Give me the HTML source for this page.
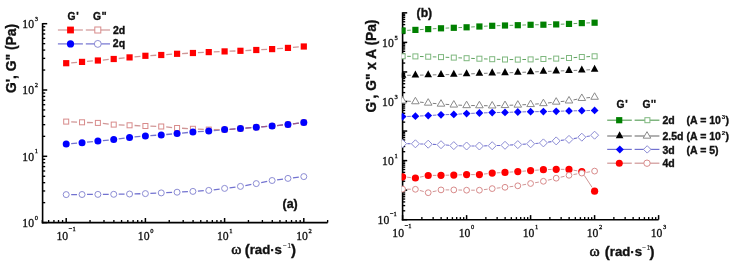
<!DOCTYPE html><html><head><meta charset="utf-8"><style>html,body{margin:0;padding:0;background:#fff;}svg{will-change:transform}svg{display:block}.s{font-family:"Liberation Serif",serif;fill:#111;stroke:#111;stroke-width:0.32px}.b{font-family:"Liberation Sans",sans-serif;font-weight:bold;fill:#111;stroke:#111;stroke-width:0.35px}</style></head><body>
<svg width="736" height="264" viewBox="0 0 736 264">
<rect width="736" height="264" fill="#fff"/>
<defs><clipPath id="cr"><rect x="401.70000000000005" y="0" width="266.0" height="220.5"/></clipPath></defs>
<line x1="71.20" y1="194.57" x2="77.04" y2="194.53" stroke="#7272d0" stroke-width="1.3" />
<line x1="87.04" y1="194.47" x2="92.88" y2="194.43" stroke="#7272d0" stroke-width="1.3" />
<line x1="102.88" y1="194.37" x2="108.72" y2="194.33" stroke="#7272d0" stroke-width="1.3" />
<line x1="118.72" y1="194.21" x2="124.56" y2="194.09" stroke="#7272d0" stroke-width="1.3" />
<line x1="134.56" y1="193.87" x2="140.40" y2="193.73" stroke="#7272d0" stroke-width="1.3" />
<line x1="150.40" y1="193.38" x2="156.24" y2="193.12" stroke="#7272d0" stroke-width="1.3" />
<line x1="166.24" y1="192.68" x2="172.08" y2="192.42" stroke="#7272d0" stroke-width="1.3" />
<line x1="182.07" y1="191.95" x2="187.93" y2="191.65" stroke="#7272d0" stroke-width="1.3" />
<line x1="197.91" y1="191.08" x2="203.77" y2="190.72" stroke="#7272d0" stroke-width="1.3" />
<line x1="213.72" y1="189.77" x2="219.64" y2="189.03" stroke="#7272d0" stroke-width="1.3" />
<line x1="229.56" y1="187.77" x2="235.48" y2="187.03" stroke="#7272d0" stroke-width="1.3" />
<line x1="245.36" y1="185.53" x2="251.36" y2="184.47" stroke="#7272d0" stroke-width="1.3" />
<line x1="261.19" y1="182.64" x2="267.21" y2="181.46" stroke="#7272d0" stroke-width="1.3" />
<line x1="277.08" y1="179.84" x2="283.00" y2="179.06" stroke="#7272d0" stroke-width="1.3" />
<line x1="292.93" y1="177.84" x2="298.83" y2="177.16" stroke="#7272d0" stroke-width="1.3" />
<circle cx="66.20" cy="194.60" r="3.00" fill="#fff" stroke="#8c8cd4" stroke-width="1"/>
<circle cx="82.04" cy="194.50" r="3.00" fill="#fff" stroke="#8c8cd4" stroke-width="1"/>
<circle cx="97.88" cy="194.40" r="3.00" fill="#fff" stroke="#8c8cd4" stroke-width="1"/>
<circle cx="113.72" cy="194.30" r="3.00" fill="#fff" stroke="#8c8cd4" stroke-width="1"/>
<circle cx="129.56" cy="194.00" r="3.00" fill="#fff" stroke="#8c8cd4" stroke-width="1"/>
<circle cx="145.40" cy="193.60" r="3.00" fill="#fff" stroke="#8c8cd4" stroke-width="1"/>
<circle cx="161.24" cy="192.90" r="3.00" fill="#fff" stroke="#8c8cd4" stroke-width="1"/>
<circle cx="177.08" cy="192.20" r="3.00" fill="#fff" stroke="#8c8cd4" stroke-width="1"/>
<circle cx="192.92" cy="191.40" r="3.00" fill="#fff" stroke="#8c8cd4" stroke-width="1"/>
<circle cx="208.76" cy="190.40" r="3.00" fill="#fff" stroke="#8c8cd4" stroke-width="1"/>
<circle cx="224.60" cy="188.40" r="3.00" fill="#fff" stroke="#8c8cd4" stroke-width="1"/>
<circle cx="240.44" cy="186.40" r="3.00" fill="#fff" stroke="#8c8cd4" stroke-width="1"/>
<circle cx="256.28" cy="183.60" r="3.00" fill="#fff" stroke="#8c8cd4" stroke-width="1"/>
<circle cx="272.12" cy="180.50" r="3.00" fill="#fff" stroke="#8c8cd4" stroke-width="1"/>
<circle cx="287.96" cy="178.40" r="3.00" fill="#fff" stroke="#8c8cd4" stroke-width="1"/>
<circle cx="303.80" cy="176.60" r="3.00" fill="#fff" stroke="#8c8cd4" stroke-width="1"/>
<line x1="71.18" y1="143.66" x2="77.06" y2="143.14" stroke="#7272d0" stroke-width="1.3" />
<line x1="87.01" y1="142.17" x2="92.91" y2="141.53" stroke="#7272d0" stroke-width="1.3" />
<line x1="102.86" y1="140.56" x2="108.74" y2="140.04" stroke="#7272d0" stroke-width="1.3" />
<line x1="118.67" y1="138.91" x2="124.61" y2="138.09" stroke="#7272d0" stroke-width="1.3" />
<line x1="134.54" y1="136.96" x2="140.42" y2="136.44" stroke="#7272d0" stroke-width="1.3" />
<line x1="150.39" y1="135.65" x2="156.25" y2="135.25" stroke="#7272d0" stroke-width="1.3" />
<line x1="166.22" y1="134.49" x2="172.10" y2="134.01" stroke="#7272d0" stroke-width="1.3" />
<line x1="182.05" y1="133.10" x2="187.95" y2="132.50" stroke="#7272d0" stroke-width="1.3" />
<line x1="197.91" y1="131.68" x2="203.77" y2="131.32" stroke="#7272d0" stroke-width="1.3" />
<line x1="213.74" y1="130.56" x2="219.62" y2="130.04" stroke="#7272d0" stroke-width="1.3" />
<line x1="229.59" y1="129.28" x2="235.45" y2="128.92" stroke="#7272d0" stroke-width="1.3" />
<line x1="245.42" y1="128.19" x2="251.30" y2="127.71" stroke="#7272d0" stroke-width="1.3" />
<line x1="261.26" y1="126.89" x2="267.14" y2="126.41" stroke="#7272d0" stroke-width="1.3" />
<line x1="277.10" y1="125.53" x2="282.98" y2="124.97" stroke="#7272d0" stroke-width="1.3" />
<line x1="292.92" y1="123.84" x2="298.84" y2="123.06" stroke="#7272d0" stroke-width="1.3" />
<line x1="71.20" y1="121.82" x2="77.04" y2="122.08" stroke="#d09696" stroke-width="1.3" />
<line x1="87.04" y1="122.49" x2="92.88" y2="122.71" stroke="#d09696" stroke-width="1.3" />
<line x1="102.85" y1="123.43" x2="108.75" y2="124.07" stroke="#d09696" stroke-width="1.3" />
<line x1="118.72" y1="124.82" x2="124.56" y2="125.08" stroke="#d09696" stroke-width="1.3" />
<line x1="134.56" y1="125.52" x2="140.40" y2="125.78" stroke="#d09696" stroke-width="1.3" />
<line x1="150.40" y1="126.16" x2="156.24" y2="126.34" stroke="#d09696" stroke-width="1.3" />
<line x1="166.22" y1="126.97" x2="172.10" y2="127.53" stroke="#d09696" stroke-width="1.3" />
<line x1="182.07" y1="128.25" x2="187.93" y2="128.55" stroke="#d09696" stroke-width="1.3" />
<line x1="197.91" y1="129.05" x2="203.77" y2="129.35" stroke="#d09696" stroke-width="1.3" />
<line x1="213.76" y1="129.60" x2="219.60" y2="129.60" stroke="#d09696" stroke-width="1.3" />
<line x1="229.59" y1="129.28" x2="235.45" y2="128.92" stroke="#a05a86" stroke-width="1.3" />
<line x1="245.42" y1="128.19" x2="251.30" y2="127.71" stroke="#a05a86" stroke-width="1.3" />
<line x1="261.26" y1="126.89" x2="267.14" y2="126.41" stroke="#a05a86" stroke-width="1.3" />
<line x1="277.10" y1="125.53" x2="282.98" y2="124.97" stroke="#a05a86" stroke-width="1.3" />
<line x1="292.92" y1="123.84" x2="298.84" y2="123.06" stroke="#a05a86" stroke-width="1.3" />
<rect x="63.70" y="119.10" width="5.00" height="5.00" fill="#fff" stroke="#d88a8a" stroke-width="1"/>
<rect x="79.54" y="119.80" width="5.00" height="5.00" fill="#fff" stroke="#d88a8a" stroke-width="1"/>
<rect x="95.38" y="120.40" width="5.00" height="5.00" fill="#fff" stroke="#d88a8a" stroke-width="1"/>
<rect x="111.22" y="122.10" width="5.00" height="5.00" fill="#fff" stroke="#d88a8a" stroke-width="1"/>
<rect x="127.06" y="122.80" width="5.00" height="5.00" fill="#fff" stroke="#d88a8a" stroke-width="1"/>
<rect x="142.90" y="123.50" width="5.00" height="5.00" fill="#fff" stroke="#d88a8a" stroke-width="1"/>
<rect x="158.74" y="124.00" width="5.00" height="5.00" fill="#fff" stroke="#d88a8a" stroke-width="1"/>
<rect x="174.58" y="125.50" width="5.00" height="5.00" fill="#fff" stroke="#d88a8a" stroke-width="1"/>
<rect x="190.42" y="126.30" width="5.00" height="5.00" fill="#fff" stroke="#d88a8a" stroke-width="1"/>
<rect x="206.26" y="127.10" width="5.00" height="5.00" fill="#fff" stroke="#d88a8a" stroke-width="1"/>
<rect x="222.10" y="127.10" width="5.00" height="5.00" fill="#fff" stroke="#d88a8a" stroke-width="1"/>
<rect x="237.94" y="126.10" width="5.00" height="5.00" fill="#fff" stroke="#d88a8a" stroke-width="1"/>
<rect x="253.78" y="124.80" width="5.00" height="5.00" fill="#fff" stroke="#d88a8a" stroke-width="1"/>
<rect x="269.62" y="123.50" width="5.00" height="5.00" fill="#fff" stroke="#d88a8a" stroke-width="1"/>
<rect x="285.46" y="122.00" width="5.00" height="5.00" fill="#fff" stroke="#d88a8a" stroke-width="1"/>
<rect x="301.30" y="119.90" width="5.00" height="5.00" fill="#fff" stroke="#d88a8a" stroke-width="1"/>
<circle cx="66.20" cy="144.10" r="3.50" fill="#0000ff"/>
<circle cx="82.04" cy="142.70" r="3.50" fill="#0000ff"/>
<circle cx="97.88" cy="141.00" r="3.50" fill="#0000ff"/>
<circle cx="113.72" cy="139.60" r="3.50" fill="#0000ff"/>
<circle cx="129.56" cy="137.40" r="3.50" fill="#0000ff"/>
<circle cx="145.40" cy="136.00" r="3.50" fill="#0000ff"/>
<circle cx="161.24" cy="134.90" r="3.50" fill="#0000ff"/>
<circle cx="177.08" cy="133.60" r="3.50" fill="#0000ff"/>
<circle cx="192.92" cy="132.00" r="3.50" fill="#0000ff"/>
<circle cx="208.76" cy="131.00" r="3.50" fill="#0000ff"/>
<circle cx="224.60" cy="129.60" r="3.50" fill="#0000ff"/>
<circle cx="240.44" cy="128.60" r="3.50" fill="#0000ff"/>
<circle cx="256.28" cy="127.30" r="3.50" fill="#0000ff"/>
<circle cx="272.12" cy="126.00" r="3.50" fill="#0000ff"/>
<circle cx="287.96" cy="124.50" r="3.50" fill="#0000ff"/>
<circle cx="303.80" cy="122.40" r="3.50" fill="#0000ff"/>
<line x1="71.18" y1="62.79" x2="77.06" y2="62.31" stroke="#d09696" stroke-width="1.3" />
<line x1="87.02" y1="61.46" x2="92.90" y2="60.94" stroke="#d09696" stroke-width="1.3" />
<line x1="102.86" y1="60.03" x2="108.74" y2="59.47" stroke="#d09696" stroke-width="1.3" />
<line x1="118.69" y1="58.50" x2="124.59" y2="57.90" stroke="#d09696" stroke-width="1.3" />
<line x1="134.53" y1="56.90" x2="140.43" y2="56.30" stroke="#d09696" stroke-width="1.3" />
<line x1="150.39" y1="55.55" x2="156.25" y2="55.25" stroke="#d09696" stroke-width="1.3" />
<line x1="166.23" y1="54.62" x2="172.09" y2="54.18" stroke="#d09696" stroke-width="1.3" />
<line x1="182.07" y1="53.55" x2="187.93" y2="53.25" stroke="#d09696" stroke-width="1.3" />
<line x1="197.91" y1="52.72" x2="203.77" y2="52.38" stroke="#d09696" stroke-width="1.3" />
<line x1="213.76" y1="51.88" x2="219.60" y2="51.62" stroke="#d09696" stroke-width="1.3" />
<line x1="229.60" y1="51.21" x2="235.44" y2="50.99" stroke="#d09696" stroke-width="1.3" />
<line x1="245.43" y1="50.55" x2="251.29" y2="50.25" stroke="#d09696" stroke-width="1.3" />
<line x1="261.27" y1="49.72" x2="267.13" y2="49.38" stroke="#d09696" stroke-width="1.3" />
<line x1="277.11" y1="48.72" x2="282.97" y2="48.28" stroke="#d09696" stroke-width="1.3" />
<line x1="292.94" y1="47.46" x2="298.82" y2="46.94" stroke="#d09696" stroke-width="1.3" />
<rect x="63.10" y="60.10" width="6.20" height="6.20" fill="#ff0000"/>
<rect x="78.94" y="58.80" width="6.20" height="6.20" fill="#ff0000"/>
<rect x="94.78" y="57.40" width="6.20" height="6.20" fill="#ff0000"/>
<rect x="110.62" y="55.90" width="6.20" height="6.20" fill="#ff0000"/>
<rect x="126.46" y="54.30" width="6.20" height="6.20" fill="#ff0000"/>
<rect x="142.30" y="52.70" width="6.20" height="6.20" fill="#ff0000"/>
<rect x="158.14" y="51.90" width="6.20" height="6.20" fill="#ff0000"/>
<rect x="173.98" y="50.70" width="6.20" height="6.20" fill="#ff0000"/>
<rect x="189.82" y="49.90" width="6.20" height="6.20" fill="#ff0000"/>
<rect x="205.66" y="49.00" width="6.20" height="6.20" fill="#ff0000"/>
<rect x="221.50" y="48.30" width="6.20" height="6.20" fill="#ff0000"/>
<rect x="237.34" y="47.70" width="6.20" height="6.20" fill="#ff0000"/>
<rect x="253.18" y="46.90" width="6.20" height="6.20" fill="#ff0000"/>
<rect x="269.02" y="46.00" width="6.20" height="6.20" fill="#ff0000"/>
<rect x="284.86" y="44.80" width="6.20" height="6.20" fill="#ff0000"/>
<rect x="300.70" y="43.40" width="6.20" height="6.20" fill="#ff0000"/>
<line x1="42.60" y1="23.10" x2="42.60" y2="223.40" stroke="#000" stroke-width="1.6" />
<line x1="41.80" y1="222.60" x2="327.64" y2="222.60" stroke="#000" stroke-width="1.6" />
<line x1="42.60" y1="222.60" x2="47.20" y2="222.60" stroke="#000" stroke-width="1.5" />
<line x1="42.60" y1="202.64" x2="45.20" y2="202.64" stroke="#000" stroke-width="1.35" />
<line x1="42.60" y1="190.97" x2="45.20" y2="190.97" stroke="#000" stroke-width="1.35" />
<line x1="42.60" y1="182.68" x2="45.20" y2="182.68" stroke="#000" stroke-width="1.35" />
<line x1="42.60" y1="176.26" x2="45.20" y2="176.26" stroke="#000" stroke-width="1.35" />
<line x1="42.60" y1="171.01" x2="45.20" y2="171.01" stroke="#000" stroke-width="1.35" />
<line x1="42.60" y1="166.57" x2="45.20" y2="166.57" stroke="#000" stroke-width="1.35" />
<line x1="42.60" y1="162.73" x2="45.20" y2="162.73" stroke="#000" stroke-width="1.35" />
<line x1="42.60" y1="159.33" x2="45.20" y2="159.33" stroke="#000" stroke-width="1.35" />
<line x1="42.60" y1="156.30" x2="47.20" y2="156.30" stroke="#000" stroke-width="1.5" />
<line x1="42.60" y1="136.34" x2="45.20" y2="136.34" stroke="#000" stroke-width="1.35" />
<line x1="42.60" y1="124.67" x2="45.20" y2="124.67" stroke="#000" stroke-width="1.35" />
<line x1="42.60" y1="116.38" x2="45.20" y2="116.38" stroke="#000" stroke-width="1.35" />
<line x1="42.60" y1="109.96" x2="45.20" y2="109.96" stroke="#000" stroke-width="1.35" />
<line x1="42.60" y1="104.71" x2="45.20" y2="104.71" stroke="#000" stroke-width="1.35" />
<line x1="42.60" y1="100.27" x2="45.20" y2="100.27" stroke="#000" stroke-width="1.35" />
<line x1="42.60" y1="96.43" x2="45.20" y2="96.43" stroke="#000" stroke-width="1.35" />
<line x1="42.60" y1="93.03" x2="45.20" y2="93.03" stroke="#000" stroke-width="1.35" />
<line x1="42.60" y1="90.00" x2="47.20" y2="90.00" stroke="#000" stroke-width="1.5" />
<line x1="42.60" y1="70.04" x2="45.20" y2="70.04" stroke="#000" stroke-width="1.35" />
<line x1="42.60" y1="58.37" x2="45.20" y2="58.37" stroke="#000" stroke-width="1.35" />
<line x1="42.60" y1="50.08" x2="45.20" y2="50.08" stroke="#000" stroke-width="1.35" />
<line x1="42.60" y1="43.66" x2="45.20" y2="43.66" stroke="#000" stroke-width="1.35" />
<line x1="42.60" y1="38.41" x2="45.20" y2="38.41" stroke="#000" stroke-width="1.35" />
<line x1="42.60" y1="33.97" x2="45.20" y2="33.97" stroke="#000" stroke-width="1.35" />
<line x1="42.60" y1="30.13" x2="45.20" y2="30.13" stroke="#000" stroke-width="1.35" />
<line x1="42.60" y1="26.73" x2="45.20" y2="26.73" stroke="#000" stroke-width="1.35" />
<line x1="42.60" y1="23.70" x2="47.20" y2="23.70" stroke="#000" stroke-width="1.5" />
<line x1="42.36" y1="222.60" x2="42.36" y2="220.00" stroke="#000" stroke-width="1.35" />
<line x1="48.63" y1="222.60" x2="48.63" y2="220.00" stroke="#000" stroke-width="1.35" />
<line x1="53.93" y1="222.60" x2="53.93" y2="220.00" stroke="#000" stroke-width="1.35" />
<line x1="58.52" y1="222.60" x2="58.52" y2="220.00" stroke="#000" stroke-width="1.35" />
<line x1="62.58" y1="222.60" x2="62.58" y2="220.00" stroke="#000" stroke-width="1.35" />
<line x1="66.20" y1="222.60" x2="66.20" y2="218.00" stroke="#000" stroke-width="1.5" />
<line x1="90.04" y1="222.60" x2="90.04" y2="220.00" stroke="#000" stroke-width="1.35" />
<line x1="103.99" y1="222.60" x2="103.99" y2="220.00" stroke="#000" stroke-width="1.35" />
<line x1="113.88" y1="222.60" x2="113.88" y2="220.00" stroke="#000" stroke-width="1.35" />
<line x1="121.56" y1="222.60" x2="121.56" y2="220.00" stroke="#000" stroke-width="1.35" />
<line x1="127.83" y1="222.60" x2="127.83" y2="220.00" stroke="#000" stroke-width="1.35" />
<line x1="133.13" y1="222.60" x2="133.13" y2="220.00" stroke="#000" stroke-width="1.35" />
<line x1="137.72" y1="222.60" x2="137.72" y2="220.00" stroke="#000" stroke-width="1.35" />
<line x1="141.78" y1="222.60" x2="141.78" y2="220.00" stroke="#000" stroke-width="1.35" />
<line x1="145.40" y1="222.60" x2="145.40" y2="218.00" stroke="#000" stroke-width="1.5" />
<line x1="169.24" y1="222.60" x2="169.24" y2="220.00" stroke="#000" stroke-width="1.35" />
<line x1="183.19" y1="222.60" x2="183.19" y2="220.00" stroke="#000" stroke-width="1.35" />
<line x1="193.08" y1="222.60" x2="193.08" y2="220.00" stroke="#000" stroke-width="1.35" />
<line x1="200.76" y1="222.60" x2="200.76" y2="220.00" stroke="#000" stroke-width="1.35" />
<line x1="207.03" y1="222.60" x2="207.03" y2="220.00" stroke="#000" stroke-width="1.35" />
<line x1="212.33" y1="222.60" x2="212.33" y2="220.00" stroke="#000" stroke-width="1.35" />
<line x1="216.92" y1="222.60" x2="216.92" y2="220.00" stroke="#000" stroke-width="1.35" />
<line x1="220.98" y1="222.60" x2="220.98" y2="220.00" stroke="#000" stroke-width="1.35" />
<line x1="224.60" y1="222.60" x2="224.60" y2="218.00" stroke="#000" stroke-width="1.5" />
<line x1="248.44" y1="222.60" x2="248.44" y2="220.00" stroke="#000" stroke-width="1.35" />
<line x1="262.39" y1="222.60" x2="262.39" y2="220.00" stroke="#000" stroke-width="1.35" />
<line x1="272.28" y1="222.60" x2="272.28" y2="220.00" stroke="#000" stroke-width="1.35" />
<line x1="279.96" y1="222.60" x2="279.96" y2="220.00" stroke="#000" stroke-width="1.35" />
<line x1="286.23" y1="222.60" x2="286.23" y2="220.00" stroke="#000" stroke-width="1.35" />
<line x1="291.53" y1="222.60" x2="291.53" y2="220.00" stroke="#000" stroke-width="1.35" />
<line x1="296.12" y1="222.60" x2="296.12" y2="220.00" stroke="#000" stroke-width="1.35" />
<line x1="300.18" y1="222.60" x2="300.18" y2="220.00" stroke="#000" stroke-width="1.35" />
<line x1="303.80" y1="222.60" x2="303.80" y2="218.00" stroke="#000" stroke-width="1.5" />
<line x1="327.64" y1="222.60" x2="327.64" y2="220.00" stroke="#000" stroke-width="1.35" />
<line x1="402.60" y1="12.25" x2="402.60" y2="220.50" stroke="#000" stroke-width="1.6" />
<line x1="401.80" y1="219.70" x2="658.60" y2="219.70" stroke="#000" stroke-width="1.6" />
<line x1="402.60" y1="219.70" x2="407.20" y2="219.70" stroke="#000" stroke-width="1.5" />
<line x1="402.60" y1="210.80" x2="405.20" y2="210.80" stroke="#000" stroke-width="1.35" />
<line x1="402.60" y1="205.60" x2="405.20" y2="205.60" stroke="#000" stroke-width="1.35" />
<line x1="402.60" y1="201.91" x2="405.20" y2="201.91" stroke="#000" stroke-width="1.35" />
<line x1="402.60" y1="199.05" x2="405.20" y2="199.05" stroke="#000" stroke-width="1.35" />
<line x1="402.60" y1="196.71" x2="405.20" y2="196.71" stroke="#000" stroke-width="1.35" />
<line x1="402.60" y1="194.73" x2="405.20" y2="194.73" stroke="#000" stroke-width="1.35" />
<line x1="402.60" y1="193.01" x2="405.20" y2="193.01" stroke="#000" stroke-width="1.35" />
<line x1="402.60" y1="191.50" x2="405.20" y2="191.50" stroke="#000" stroke-width="1.35" />
<line x1="402.60" y1="190.15" x2="407.20" y2="190.15" stroke="#000" stroke-width="1.5" />
<line x1="402.60" y1="181.25" x2="405.20" y2="181.25" stroke="#000" stroke-width="1.35" />
<line x1="402.60" y1="176.05" x2="405.20" y2="176.05" stroke="#000" stroke-width="1.35" />
<line x1="402.60" y1="172.36" x2="405.20" y2="172.36" stroke="#000" stroke-width="1.35" />
<line x1="402.60" y1="169.50" x2="405.20" y2="169.50" stroke="#000" stroke-width="1.35" />
<line x1="402.60" y1="167.16" x2="405.20" y2="167.16" stroke="#000" stroke-width="1.35" />
<line x1="402.60" y1="165.18" x2="405.20" y2="165.18" stroke="#000" stroke-width="1.35" />
<line x1="402.60" y1="163.46" x2="405.20" y2="163.46" stroke="#000" stroke-width="1.35" />
<line x1="402.60" y1="161.95" x2="405.20" y2="161.95" stroke="#000" stroke-width="1.35" />
<line x1="402.60" y1="160.60" x2="407.20" y2="160.60" stroke="#000" stroke-width="1.5" />
<line x1="402.60" y1="151.70" x2="405.20" y2="151.70" stroke="#000" stroke-width="1.35" />
<line x1="402.60" y1="146.50" x2="405.20" y2="146.50" stroke="#000" stroke-width="1.35" />
<line x1="402.60" y1="142.81" x2="405.20" y2="142.81" stroke="#000" stroke-width="1.35" />
<line x1="402.60" y1="139.95" x2="405.20" y2="139.95" stroke="#000" stroke-width="1.35" />
<line x1="402.60" y1="137.61" x2="405.20" y2="137.61" stroke="#000" stroke-width="1.35" />
<line x1="402.60" y1="135.63" x2="405.20" y2="135.63" stroke="#000" stroke-width="1.35" />
<line x1="402.60" y1="133.91" x2="405.20" y2="133.91" stroke="#000" stroke-width="1.35" />
<line x1="402.60" y1="132.40" x2="405.20" y2="132.40" stroke="#000" stroke-width="1.35" />
<line x1="402.60" y1="131.05" x2="407.20" y2="131.05" stroke="#000" stroke-width="1.5" />
<line x1="402.60" y1="122.15" x2="405.20" y2="122.15" stroke="#000" stroke-width="1.35" />
<line x1="402.60" y1="116.95" x2="405.20" y2="116.95" stroke="#000" stroke-width="1.35" />
<line x1="402.60" y1="113.26" x2="405.20" y2="113.26" stroke="#000" stroke-width="1.35" />
<line x1="402.60" y1="110.40" x2="405.20" y2="110.40" stroke="#000" stroke-width="1.35" />
<line x1="402.60" y1="108.06" x2="405.20" y2="108.06" stroke="#000" stroke-width="1.35" />
<line x1="402.60" y1="106.08" x2="405.20" y2="106.08" stroke="#000" stroke-width="1.35" />
<line x1="402.60" y1="104.36" x2="405.20" y2="104.36" stroke="#000" stroke-width="1.35" />
<line x1="402.60" y1="102.85" x2="405.20" y2="102.85" stroke="#000" stroke-width="1.35" />
<line x1="402.60" y1="101.50" x2="407.20" y2="101.50" stroke="#000" stroke-width="1.5" />
<line x1="402.60" y1="92.60" x2="405.20" y2="92.60" stroke="#000" stroke-width="1.35" />
<line x1="402.60" y1="87.40" x2="405.20" y2="87.40" stroke="#000" stroke-width="1.35" />
<line x1="402.60" y1="83.71" x2="405.20" y2="83.71" stroke="#000" stroke-width="1.35" />
<line x1="402.60" y1="80.85" x2="405.20" y2="80.85" stroke="#000" stroke-width="1.35" />
<line x1="402.60" y1="78.51" x2="405.20" y2="78.51" stroke="#000" stroke-width="1.35" />
<line x1="402.60" y1="76.53" x2="405.20" y2="76.53" stroke="#000" stroke-width="1.35" />
<line x1="402.60" y1="74.81" x2="405.20" y2="74.81" stroke="#000" stroke-width="1.35" />
<line x1="402.60" y1="73.30" x2="405.20" y2="73.30" stroke="#000" stroke-width="1.35" />
<line x1="402.60" y1="71.95" x2="407.20" y2="71.95" stroke="#000" stroke-width="1.5" />
<line x1="402.60" y1="63.05" x2="405.20" y2="63.05" stroke="#000" stroke-width="1.35" />
<line x1="402.60" y1="57.85" x2="405.20" y2="57.85" stroke="#000" stroke-width="1.35" />
<line x1="402.60" y1="54.16" x2="405.20" y2="54.16" stroke="#000" stroke-width="1.35" />
<line x1="402.60" y1="51.30" x2="405.20" y2="51.30" stroke="#000" stroke-width="1.35" />
<line x1="402.60" y1="48.96" x2="405.20" y2="48.96" stroke="#000" stroke-width="1.35" />
<line x1="402.60" y1="46.98" x2="405.20" y2="46.98" stroke="#000" stroke-width="1.35" />
<line x1="402.60" y1="45.26" x2="405.20" y2="45.26" stroke="#000" stroke-width="1.35" />
<line x1="402.60" y1="43.75" x2="405.20" y2="43.75" stroke="#000" stroke-width="1.35" />
<line x1="402.60" y1="42.40" x2="407.20" y2="42.40" stroke="#000" stroke-width="1.5" />
<line x1="402.60" y1="33.50" x2="405.20" y2="33.50" stroke="#000" stroke-width="1.35" />
<line x1="402.60" y1="28.30" x2="405.20" y2="28.30" stroke="#000" stroke-width="1.35" />
<line x1="402.60" y1="24.61" x2="405.20" y2="24.61" stroke="#000" stroke-width="1.35" />
<line x1="402.60" y1="21.75" x2="405.20" y2="21.75" stroke="#000" stroke-width="1.35" />
<line x1="402.60" y1="19.41" x2="405.20" y2="19.41" stroke="#000" stroke-width="1.35" />
<line x1="402.60" y1="17.43" x2="405.20" y2="17.43" stroke="#000" stroke-width="1.35" />
<line x1="402.60" y1="15.71" x2="405.20" y2="15.71" stroke="#000" stroke-width="1.35" />
<line x1="402.60" y1="14.20" x2="405.20" y2="14.20" stroke="#000" stroke-width="1.35" />
<line x1="402.60" y1="12.85" x2="407.20" y2="12.85" stroke="#000" stroke-width="1.5" />
<line x1="402.60" y1="219.70" x2="402.60" y2="215.10" stroke="#000" stroke-width="1.5" />
<line x1="421.87" y1="219.70" x2="421.87" y2="217.10" stroke="#000" stroke-width="1.35" />
<line x1="433.14" y1="219.70" x2="433.14" y2="217.10" stroke="#000" stroke-width="1.35" />
<line x1="441.13" y1="219.70" x2="441.13" y2="217.10" stroke="#000" stroke-width="1.35" />
<line x1="447.33" y1="219.70" x2="447.33" y2="217.10" stroke="#000" stroke-width="1.35" />
<line x1="452.40" y1="219.70" x2="452.40" y2="217.10" stroke="#000" stroke-width="1.35" />
<line x1="456.69" y1="219.70" x2="456.69" y2="217.10" stroke="#000" stroke-width="1.35" />
<line x1="460.40" y1="219.70" x2="460.40" y2="217.10" stroke="#000" stroke-width="1.35" />
<line x1="463.67" y1="219.70" x2="463.67" y2="217.10" stroke="#000" stroke-width="1.35" />
<line x1="466.60" y1="219.70" x2="466.60" y2="215.10" stroke="#000" stroke-width="1.5" />
<line x1="485.87" y1="219.70" x2="485.87" y2="217.10" stroke="#000" stroke-width="1.35" />
<line x1="497.14" y1="219.70" x2="497.14" y2="217.10" stroke="#000" stroke-width="1.35" />
<line x1="505.13" y1="219.70" x2="505.13" y2="217.10" stroke="#000" stroke-width="1.35" />
<line x1="511.33" y1="219.70" x2="511.33" y2="217.10" stroke="#000" stroke-width="1.35" />
<line x1="516.40" y1="219.70" x2="516.40" y2="217.10" stroke="#000" stroke-width="1.35" />
<line x1="520.69" y1="219.70" x2="520.69" y2="217.10" stroke="#000" stroke-width="1.35" />
<line x1="524.40" y1="219.70" x2="524.40" y2="217.10" stroke="#000" stroke-width="1.35" />
<line x1="527.67" y1="219.70" x2="527.67" y2="217.10" stroke="#000" stroke-width="1.35" />
<line x1="530.60" y1="219.70" x2="530.60" y2="215.10" stroke="#000" stroke-width="1.5" />
<line x1="549.87" y1="219.70" x2="549.87" y2="217.10" stroke="#000" stroke-width="1.35" />
<line x1="561.14" y1="219.70" x2="561.14" y2="217.10" stroke="#000" stroke-width="1.35" />
<line x1="569.13" y1="219.70" x2="569.13" y2="217.10" stroke="#000" stroke-width="1.35" />
<line x1="575.33" y1="219.70" x2="575.33" y2="217.10" stroke="#000" stroke-width="1.35" />
<line x1="580.40" y1="219.70" x2="580.40" y2="217.10" stroke="#000" stroke-width="1.35" />
<line x1="584.69" y1="219.70" x2="584.69" y2="217.10" stroke="#000" stroke-width="1.35" />
<line x1="588.40" y1="219.70" x2="588.40" y2="217.10" stroke="#000" stroke-width="1.35" />
<line x1="591.67" y1="219.70" x2="591.67" y2="217.10" stroke="#000" stroke-width="1.35" />
<line x1="594.60" y1="219.70" x2="594.60" y2="215.10" stroke="#000" stroke-width="1.5" />
<line x1="613.87" y1="219.70" x2="613.87" y2="217.10" stroke="#000" stroke-width="1.35" />
<line x1="625.14" y1="219.70" x2="625.14" y2="217.10" stroke="#000" stroke-width="1.35" />
<line x1="633.13" y1="219.70" x2="633.13" y2="217.10" stroke="#000" stroke-width="1.35" />
<line x1="639.33" y1="219.70" x2="639.33" y2="217.10" stroke="#000" stroke-width="1.35" />
<line x1="644.40" y1="219.70" x2="644.40" y2="217.10" stroke="#000" stroke-width="1.35" />
<line x1="648.69" y1="219.70" x2="648.69" y2="217.10" stroke="#000" stroke-width="1.35" />
<line x1="652.40" y1="219.70" x2="652.40" y2="217.10" stroke="#000" stroke-width="1.35" />
<line x1="655.67" y1="219.70" x2="655.67" y2="217.10" stroke="#000" stroke-width="1.35" />
<line x1="658.60" y1="219.70" x2="658.60" y2="215.10" stroke="#000" stroke-width="1.5" />
<g clip-path="url(#cr)"><line x1="407.20" y1="56.34" x2="410.80" y2="56.36" stroke="#5fa35f" stroke-width="1.0" /><line x1="420.00" y1="56.51" x2="423.60" y2="56.59" stroke="#5fa35f" stroke-width="1.0" /><line x1="432.80" y1="56.84" x2="436.40" y2="56.96" stroke="#5fa35f" stroke-width="1.0" /><line x1="445.60" y1="57.28" x2="449.20" y2="57.42" stroke="#5fa35f" stroke-width="1.0" /><line x1="458.39" y1="57.82" x2="462.01" y2="57.98" stroke="#5fa35f" stroke-width="1.0" /><line x1="471.20" y1="58.38" x2="474.80" y2="58.52" stroke="#5fa35f" stroke-width="1.0" /><line x1="484.00" y1="58.88" x2="487.60" y2="59.02" stroke="#5fa35f" stroke-width="1.0" /><line x1="496.80" y1="59.31" x2="500.40" y2="59.39" stroke="#5fa35f" stroke-width="1.0" /><line x1="509.60" y1="59.54" x2="513.20" y2="59.56" stroke="#5fa35f" stroke-width="1.0" /><line x1="522.40" y1="59.53" x2="526.00" y2="59.47" stroke="#5fa35f" stroke-width="1.0" /><line x1="535.20" y1="59.26" x2="538.80" y2="59.14" stroke="#5fa35f" stroke-width="1.0" /><line x1="548.00" y1="58.86" x2="551.60" y2="58.74" stroke="#5fa35f" stroke-width="1.0" /><line x1="560.79" y1="58.38" x2="564.41" y2="58.22" stroke="#5fa35f" stroke-width="1.0" /><line x1="573.59" y1="57.64" x2="577.21" y2="57.36" stroke="#5fa35f" stroke-width="1.0" /><line x1="586.39" y1="56.75" x2="590.01" y2="56.55" stroke="#5fa35f" stroke-width="1.0" /><rect x="400.10" y="53.80" width="5.00" height="5.00" fill="#fff" stroke="#7fb87f" stroke-width="1"/><rect x="412.90" y="53.90" width="5.00" height="5.00" fill="#fff" stroke="#7fb87f" stroke-width="1"/><rect x="425.70" y="54.20" width="5.00" height="5.00" fill="#fff" stroke="#7fb87f" stroke-width="1"/><rect x="438.50" y="54.60" width="5.00" height="5.00" fill="#fff" stroke="#7fb87f" stroke-width="1"/><rect x="451.30" y="55.10" width="5.00" height="5.00" fill="#fff" stroke="#7fb87f" stroke-width="1"/><rect x="464.10" y="55.70" width="5.00" height="5.00" fill="#fff" stroke="#7fb87f" stroke-width="1"/><rect x="476.90" y="56.20" width="5.00" height="5.00" fill="#fff" stroke="#7fb87f" stroke-width="1"/><rect x="489.70" y="56.70" width="5.00" height="5.00" fill="#fff" stroke="#7fb87f" stroke-width="1"/><rect x="502.50" y="57.00" width="5.00" height="5.00" fill="#fff" stroke="#7fb87f" stroke-width="1"/><rect x="515.30" y="57.10" width="5.00" height="5.00" fill="#fff" stroke="#7fb87f" stroke-width="1"/><rect x="528.10" y="56.90" width="5.00" height="5.00" fill="#fff" stroke="#7fb87f" stroke-width="1"/><rect x="540.90" y="56.50" width="5.00" height="5.00" fill="#fff" stroke="#7fb87f" stroke-width="1"/><rect x="553.70" y="56.10" width="5.00" height="5.00" fill="#fff" stroke="#7fb87f" stroke-width="1"/><rect x="566.50" y="55.50" width="5.00" height="5.00" fill="#fff" stroke="#7fb87f" stroke-width="1"/><rect x="579.30" y="54.50" width="5.00" height="5.00" fill="#fff" stroke="#7fb87f" stroke-width="1"/><rect x="592.10" y="53.80" width="5.00" height="5.00" fill="#fff" stroke="#7fb87f" stroke-width="1"/><line x1="407.19" y1="30.35" x2="410.81" y2="30.15" stroke="#5fa35f" stroke-width="1.0" /><line x1="419.99" y1="29.61" x2="423.61" y2="29.39" stroke="#5fa35f" stroke-width="1.0" /><line x1="432.79" y1="28.81" x2="436.41" y2="28.59" stroke="#5fa35f" stroke-width="1.0" /><line x1="445.60" y1="28.12" x2="449.20" y2="27.98" stroke="#5fa35f" stroke-width="1.0" /><line x1="458.40" y1="27.62" x2="462.00" y2="27.48" stroke="#5fa35f" stroke-width="1.0" /><line x1="471.19" y1="27.01" x2="474.81" y2="26.79" stroke="#5fa35f" stroke-width="1.0" /><line x1="483.99" y1="26.25" x2="487.61" y2="26.05" stroke="#5fa35f" stroke-width="1.0" /><line x1="496.80" y1="25.69" x2="500.40" y2="25.61" stroke="#5fa35f" stroke-width="1.0" /><line x1="509.60" y1="25.39" x2="513.20" y2="25.31" stroke="#5fa35f" stroke-width="1.0" /><line x1="522.40" y1="25.06" x2="526.00" y2="24.94" stroke="#5fa35f" stroke-width="1.0" /><line x1="535.20" y1="24.76" x2="538.80" y2="24.74" stroke="#5fa35f" stroke-width="1.0" /><line x1="548.00" y1="24.59" x2="551.60" y2="24.51" stroke="#5fa35f" stroke-width="1.0" /><line x1="560.80" y1="24.22" x2="564.40" y2="24.08" stroke="#5fa35f" stroke-width="1.0" /><line x1="573.59" y1="23.61" x2="577.21" y2="23.39" stroke="#5fa35f" stroke-width="1.0" /><line x1="586.40" y1="22.96" x2="590.00" y2="22.84" stroke="#5fa35f" stroke-width="1.0" /><rect x="399.50" y="27.50" width="6.20" height="6.20" fill="#008000"/><rect x="412.30" y="26.80" width="6.20" height="6.20" fill="#008000"/><rect x="425.10" y="26.00" width="6.20" height="6.20" fill="#008000"/><rect x="437.90" y="25.20" width="6.20" height="6.20" fill="#008000"/><rect x="450.70" y="24.70" width="6.20" height="6.20" fill="#008000"/><rect x="463.50" y="24.20" width="6.20" height="6.20" fill="#008000"/><rect x="476.30" y="23.40" width="6.20" height="6.20" fill="#008000"/><rect x="489.10" y="22.70" width="6.20" height="6.20" fill="#008000"/><rect x="501.90" y="22.40" width="6.20" height="6.20" fill="#008000"/><rect x="514.70" y="22.10" width="6.20" height="6.20" fill="#008000"/><rect x="527.50" y="21.70" width="6.20" height="6.20" fill="#008000"/><rect x="540.30" y="21.60" width="6.20" height="6.20" fill="#008000"/><rect x="553.10" y="21.30" width="6.20" height="6.20" fill="#008000"/><rect x="565.90" y="20.80" width="6.20" height="6.20" fill="#008000"/><rect x="578.70" y="20.00" width="6.20" height="6.20" fill="#008000"/><rect x="591.50" y="19.60" width="6.20" height="6.20" fill="#008000"/><line x1="407.19" y1="101.15" x2="410.81" y2="101.35" stroke="#7e7e7e" stroke-width="1.0" /><line x1="419.97" y1="102.10" x2="423.63" y2="102.50" stroke="#7e7e7e" stroke-width="1.0" /><line x1="432.79" y1="103.36" x2="436.41" y2="103.64" stroke="#7e7e7e" stroke-width="1.0" /><line x1="445.59" y1="104.32" x2="449.21" y2="104.58" stroke="#7e7e7e" stroke-width="1.0" /><line x1="458.39" y1="105.12" x2="462.01" y2="105.28" stroke="#7e7e7e" stroke-width="1.0" /><line x1="471.20" y1="105.54" x2="474.80" y2="105.56" stroke="#7e7e7e" stroke-width="1.0" /><line x1="484.00" y1="105.67" x2="487.60" y2="105.73" stroke="#7e7e7e" stroke-width="1.0" /><line x1="496.80" y1="105.66" x2="500.40" y2="105.54" stroke="#7e7e7e" stroke-width="1.0" /><line x1="509.60" y1="105.26" x2="513.20" y2="105.14" stroke="#7e7e7e" stroke-width="1.0" /><line x1="522.39" y1="104.78" x2="526.01" y2="104.62" stroke="#7e7e7e" stroke-width="1.0" /><line x1="535.19" y1="104.08" x2="538.81" y2="103.82" stroke="#7e7e7e" stroke-width="1.0" /><line x1="547.97" y1="102.96" x2="551.63" y2="102.54" stroke="#7e7e7e" stroke-width="1.0" /><line x1="560.78" y1="101.57" x2="564.42" y2="101.23" stroke="#7e7e7e" stroke-width="1.0" /><line x1="573.51" y1="99.92" x2="577.29" y2="99.18" stroke="#7e7e7e" stroke-width="1.0" /><line x1="586.38" y1="97.87" x2="590.02" y2="97.53" stroke="#7e7e7e" stroke-width="1.0" /><polygon points="402.60,96.57 406.40,103.07 398.80,103.07" fill="#fff" stroke="#8a8a8a" stroke-width="1" stroke-linejoin="miter"/><polygon points="415.40,97.27 419.20,103.77 411.60,103.77" fill="#fff" stroke="#8a8a8a" stroke-width="1" stroke-linejoin="miter"/><polygon points="428.20,98.67 432.00,105.17 424.40,105.17" fill="#fff" stroke="#8a8a8a" stroke-width="1" stroke-linejoin="miter"/><polygon points="441.00,99.67 444.80,106.17 437.20,106.17" fill="#fff" stroke="#8a8a8a" stroke-width="1" stroke-linejoin="miter"/><polygon points="453.80,100.57 457.60,107.07 450.00,107.07" fill="#fff" stroke="#8a8a8a" stroke-width="1" stroke-linejoin="miter"/><polygon points="466.60,101.17 470.40,107.67 462.80,107.67" fill="#fff" stroke="#8a8a8a" stroke-width="1" stroke-linejoin="miter"/><polygon points="479.40,101.27 483.20,107.77 475.60,107.77" fill="#fff" stroke="#8a8a8a" stroke-width="1" stroke-linejoin="miter"/><polygon points="492.20,101.47 496.00,107.97 488.40,107.97" fill="#fff" stroke="#8a8a8a" stroke-width="1" stroke-linejoin="miter"/><polygon points="505.00,101.07 508.80,107.57 501.20,107.57" fill="#fff" stroke="#8a8a8a" stroke-width="1" stroke-linejoin="miter"/><polygon points="517.80,100.67 521.60,107.17 514.00,107.17" fill="#fff" stroke="#8a8a8a" stroke-width="1" stroke-linejoin="miter"/><polygon points="530.60,100.07 534.40,106.57 526.80,106.57" fill="#fff" stroke="#8a8a8a" stroke-width="1" stroke-linejoin="miter"/><polygon points="543.40,99.17 547.20,105.67 539.60,105.67" fill="#fff" stroke="#8a8a8a" stroke-width="1" stroke-linejoin="miter"/><polygon points="556.20,97.67 560.00,104.17 552.40,104.17" fill="#fff" stroke="#8a8a8a" stroke-width="1" stroke-linejoin="miter"/><polygon points="569.00,96.47 572.80,102.97 565.20,102.97" fill="#fff" stroke="#8a8a8a" stroke-width="1" stroke-linejoin="miter"/><polygon points="581.80,93.97 585.60,100.47 578.00,100.47" fill="#fff" stroke="#8a8a8a" stroke-width="1" stroke-linejoin="miter"/><polygon points="594.60,92.77 598.40,99.27 590.80,99.27" fill="#fff" stroke="#8a8a8a" stroke-width="1" stroke-linejoin="miter"/><line x1="407.20" y1="75.33" x2="410.80" y2="75.27" stroke="#7e7e7e" stroke-width="1.0" /><line x1="420.00" y1="75.13" x2="423.60" y2="75.07" stroke="#7e7e7e" stroke-width="1.0" /><line x1="432.80" y1="74.89" x2="436.40" y2="74.81" stroke="#7e7e7e" stroke-width="1.0" /><line x1="445.60" y1="74.63" x2="449.20" y2="74.57" stroke="#7e7e7e" stroke-width="1.0" /><line x1="458.40" y1="74.32" x2="462.00" y2="74.18" stroke="#7e7e7e" stroke-width="1.0" /><line x1="471.20" y1="73.82" x2="474.80" y2="73.68" stroke="#7e7e7e" stroke-width="1.0" /><line x1="484.00" y1="73.36" x2="487.60" y2="73.24" stroke="#7e7e7e" stroke-width="1.0" /><line x1="496.80" y1="72.99" x2="500.40" y2="72.91" stroke="#7e7e7e" stroke-width="1.0" /><line x1="509.60" y1="72.69" x2="513.20" y2="72.61" stroke="#7e7e7e" stroke-width="1.0" /><line x1="522.40" y1="72.32" x2="526.00" y2="72.18" stroke="#7e7e7e" stroke-width="1.0" /><line x1="535.20" y1="71.82" x2="538.80" y2="71.68" stroke="#7e7e7e" stroke-width="1.0" /><line x1="548.00" y1="71.36" x2="551.60" y2="71.24" stroke="#7e7e7e" stroke-width="1.0" /><line x1="560.80" y1="70.92" x2="564.40" y2="70.78" stroke="#7e7e7e" stroke-width="1.0" /><line x1="573.60" y1="70.46" x2="577.20" y2="70.34" stroke="#7e7e7e" stroke-width="1.0" /><line x1="586.39" y1="69.95" x2="590.01" y2="69.75" stroke="#7e7e7e" stroke-width="1.0" /><polygon points="402.60,70.67 406.40,77.77 398.80,77.77" fill="#000"/><polygon points="415.40,70.47 419.20,77.57 411.60,77.57" fill="#000"/><polygon points="428.20,70.27 432.00,77.37 424.40,77.37" fill="#000"/><polygon points="441.00,69.97 444.80,77.07 437.20,77.07" fill="#000"/><polygon points="453.80,69.77 457.60,76.87 450.00,76.87" fill="#000"/><polygon points="466.60,69.27 470.40,76.37 462.80,76.37" fill="#000"/><polygon points="479.40,68.77 483.20,75.87 475.60,75.87" fill="#000"/><polygon points="492.20,68.37 496.00,75.47 488.40,75.47" fill="#000"/><polygon points="505.00,68.07 508.80,75.17 501.20,75.17" fill="#000"/><polygon points="517.80,67.77 521.60,74.87 514.00,74.87" fill="#000"/><polygon points="530.60,67.27 534.40,74.37 526.80,74.37" fill="#000"/><polygon points="543.40,66.77 547.20,73.87 539.60,73.87" fill="#000"/><polygon points="556.20,66.37 560.00,73.47 552.40,73.47" fill="#000"/><polygon points="569.00,65.87 572.80,72.97 565.20,72.97" fill="#000"/><polygon points="581.80,65.47 585.60,72.57 578.00,72.57" fill="#000"/><polygon points="594.60,64.77 598.40,71.87 590.80,71.87" fill="#000"/><line x1="407.40" y1="143.67" x2="410.60" y2="143.73" stroke="#7272d0" stroke-width="1.1" /><line x1="420.20" y1="143.95" x2="423.40" y2="144.05" stroke="#7272d0" stroke-width="1.1" /><line x1="433.00" y1="144.39" x2="436.20" y2="144.51" stroke="#7272d0" stroke-width="1.1" /><line x1="445.79" y1="145.04" x2="449.01" y2="145.26" stroke="#7272d0" stroke-width="1.1" /><line x1="458.60" y1="145.75" x2="461.80" y2="145.85" stroke="#7272d0" stroke-width="1.1" /><line x1="471.40" y1="146.00" x2="474.60" y2="146.00" stroke="#7272d0" stroke-width="1.1" /><line x1="484.20" y1="145.89" x2="487.40" y2="145.81" stroke="#7272d0" stroke-width="1.1" /><line x1="497.00" y1="145.55" x2="500.20" y2="145.45" stroke="#7272d0" stroke-width="1.1" /><line x1="509.79" y1="145.04" x2="513.01" y2="144.86" stroke="#7272d0" stroke-width="1.1" /><line x1="522.59" y1="144.30" x2="525.81" y2="144.10" stroke="#7272d0" stroke-width="1.1" /><line x1="535.39" y1="143.46" x2="538.61" y2="143.24" stroke="#7272d0" stroke-width="1.1" /><line x1="548.14" y1="142.16" x2="551.46" y2="141.64" stroke="#7272d0" stroke-width="1.1" /><line x1="560.97" y1="140.34" x2="564.23" y2="139.96" stroke="#7272d0" stroke-width="1.1" /><line x1="573.73" y1="138.59" x2="577.07" y2="138.01" stroke="#7272d0" stroke-width="1.1" /><line x1="586.54" y1="136.46" x2="589.86" y2="135.94" stroke="#7272d0" stroke-width="1.1" /><polygon points="402.60,139.60 406.60,143.60 402.60,147.60 398.60,143.60" fill="#fff" stroke="#8c8cd4" stroke-width="1"/><polygon points="415.40,139.80 419.40,143.80 415.40,147.80 411.40,143.80" fill="#fff" stroke="#8c8cd4" stroke-width="1"/><polygon points="428.20,140.20 432.20,144.20 428.20,148.20 424.20,144.20" fill="#fff" stroke="#8c8cd4" stroke-width="1"/><polygon points="441.00,140.70 445.00,144.70 441.00,148.70 437.00,144.70" fill="#fff" stroke="#8c8cd4" stroke-width="1"/><polygon points="453.80,141.60 457.80,145.60 453.80,149.60 449.80,145.60" fill="#fff" stroke="#8c8cd4" stroke-width="1"/><polygon points="466.60,142.00 470.60,146.00 466.60,150.00 462.60,146.00" fill="#fff" stroke="#8c8cd4" stroke-width="1"/><polygon points="479.40,142.00 483.40,146.00 479.40,150.00 475.40,146.00" fill="#fff" stroke="#8c8cd4" stroke-width="1"/><polygon points="492.20,141.70 496.20,145.70 492.20,149.70 488.20,145.70" fill="#fff" stroke="#8c8cd4" stroke-width="1"/><polygon points="505.00,141.30 509.00,145.30 505.00,149.30 501.00,145.30" fill="#fff" stroke="#8c8cd4" stroke-width="1"/><polygon points="517.80,140.60 521.80,144.60 517.80,148.60 513.80,144.60" fill="#fff" stroke="#8c8cd4" stroke-width="1"/><polygon points="530.60,139.80 534.60,143.80 530.60,147.80 526.60,143.80" fill="#fff" stroke="#8c8cd4" stroke-width="1"/><polygon points="543.40,138.90 547.40,142.90 543.40,146.90 539.40,142.90" fill="#fff" stroke="#8c8cd4" stroke-width="1"/><polygon points="556.20,136.90 560.20,140.90 556.20,144.90 552.20,140.90" fill="#fff" stroke="#8c8cd4" stroke-width="1"/><polygon points="569.00,135.40 573.00,139.40 569.00,143.40 565.00,139.40" fill="#fff" stroke="#8c8cd4" stroke-width="1"/><polygon points="581.80,133.20 585.80,137.20 581.80,141.20 577.80,137.20" fill="#fff" stroke="#8c8cd4" stroke-width="1"/><polygon points="594.60,131.20 598.60,135.20 594.60,139.20 590.60,135.20" fill="#fff" stroke="#8c8cd4" stroke-width="1"/><line x1="407.20" y1="116.46" x2="410.80" y2="116.34" stroke="#7272d0" stroke-width="1.0" /><line x1="419.99" y1="115.98" x2="423.61" y2="115.82" stroke="#7272d0" stroke-width="1.0" /><line x1="432.79" y1="115.31" x2="436.41" y2="115.09" stroke="#7272d0" stroke-width="1.0" /><line x1="445.60" y1="114.66" x2="449.20" y2="114.54" stroke="#7272d0" stroke-width="1.0" /><line x1="458.39" y1="114.11" x2="462.01" y2="113.89" stroke="#7272d0" stroke-width="1.0" /><line x1="471.19" y1="113.38" x2="474.81" y2="113.22" stroke="#7272d0" stroke-width="1.0" /><line x1="484.00" y1="112.86" x2="487.60" y2="112.74" stroke="#7272d0" stroke-width="1.0" /><line x1="496.80" y1="112.53" x2="500.40" y2="112.47" stroke="#7272d0" stroke-width="1.0" /><line x1="509.60" y1="112.26" x2="513.20" y2="112.14" stroke="#7272d0" stroke-width="1.0" /><line x1="522.40" y1="111.89" x2="526.00" y2="111.81" stroke="#7272d0" stroke-width="1.0" /><line x1="535.20" y1="111.66" x2="538.80" y2="111.64" stroke="#7272d0" stroke-width="1.0" /><line x1="548.00" y1="111.49" x2="551.60" y2="111.41" stroke="#7272d0" stroke-width="1.0" /><line x1="560.80" y1="111.16" x2="564.40" y2="111.04" stroke="#7272d0" stroke-width="1.0" /><line x1="573.60" y1="110.83" x2="577.20" y2="110.77" stroke="#7272d0" stroke-width="1.0" /><line x1="586.40" y1="110.59" x2="590.00" y2="110.51" stroke="#7272d0" stroke-width="1.0" /><polygon points="402.60,112.70 406.50,116.60 402.60,120.50 398.70,116.60" fill="#0000ff"/><polygon points="415.40,112.30 419.30,116.20 415.40,120.10 411.50,116.20" fill="#0000ff"/><polygon points="428.20,111.70 432.10,115.60 428.20,119.50 424.30,115.60" fill="#0000ff"/><polygon points="441.00,110.90 444.90,114.80 441.00,118.70 437.10,114.80" fill="#0000ff"/><polygon points="453.80,110.50 457.70,114.40 453.80,118.30 449.90,114.40" fill="#0000ff"/><polygon points="466.60,109.70 470.50,113.60 466.60,117.50 462.70,113.60" fill="#0000ff"/><polygon points="479.40,109.10 483.30,113.00 479.40,116.90 475.50,113.00" fill="#0000ff"/><polygon points="492.20,108.70 496.10,112.60 492.20,116.50 488.30,112.60" fill="#0000ff"/><polygon points="505.00,108.50 508.90,112.40 505.00,116.30 501.10,112.40" fill="#0000ff"/><polygon points="517.80,108.10 521.70,112.00 517.80,115.90 513.90,112.00" fill="#0000ff"/><polygon points="530.60,107.80 534.50,111.70 530.60,115.60 526.70,111.70" fill="#0000ff"/><polygon points="543.40,107.70 547.30,111.60 543.40,115.50 539.50,111.60" fill="#0000ff"/><polygon points="556.20,107.40 560.10,111.30 556.20,115.20 552.30,111.30" fill="#0000ff"/><polygon points="569.00,107.00 572.90,110.90 569.00,114.80 565.10,110.90" fill="#0000ff"/><polygon points="581.80,106.80 585.70,110.70 581.80,114.60 577.90,110.70" fill="#0000ff"/><polygon points="594.60,106.50 598.50,110.40 594.60,114.30 590.70,110.40" fill="#0000ff"/><line x1="407.18" y1="177.23" x2="410.82" y2="177.57" stroke="#d09696" stroke-width="1.0" /><line x1="419.91" y1="177.12" x2="423.69" y2="176.38" stroke="#d09696" stroke-width="1.0" /><line x1="432.80" y1="175.43" x2="436.40" y2="175.37" stroke="#d09696" stroke-width="1.0" /><line x1="445.60" y1="175.23" x2="449.20" y2="175.17" stroke="#d09696" stroke-width="1.0" /><line x1="458.40" y1="174.92" x2="462.00" y2="174.78" stroke="#d09696" stroke-width="1.0" /><line x1="471.20" y1="174.60" x2="474.80" y2="174.60" stroke="#d09696" stroke-width="1.0" /><line x1="483.97" y1="174.06" x2="487.63" y2="173.64" stroke="#d09696" stroke-width="1.0" /><line x1="496.79" y1="172.85" x2="500.41" y2="172.65" stroke="#d09696" stroke-width="1.0" /><line x1="509.59" y1="172.11" x2="513.21" y2="171.89" stroke="#d09696" stroke-width="1.0" /><line x1="522.39" y1="171.24" x2="526.01" y2="170.96" stroke="#d09696" stroke-width="1.0" /><line x1="535.19" y1="170.28" x2="538.81" y2="170.02" stroke="#d09696" stroke-width="1.0" /><line x1="548.00" y1="169.56" x2="551.60" y2="169.44" stroke="#d09696" stroke-width="1.0" /><line x1="560.80" y1="169.34" x2="564.40" y2="169.36" stroke="#d09696" stroke-width="1.0" /><line x1="573.53" y1="170.18" x2="577.27" y2="170.82" stroke="#d09696" stroke-width="1.0" /><line x1="584.32" y1="175.45" x2="592.08" y2="187.35" stroke="#d09696" stroke-width="1.0" /><circle cx="402.60" cy="176.80" r="3.60" fill="#ff0000"/><circle cx="415.40" cy="178.00" r="3.60" fill="#ff0000"/><circle cx="428.20" cy="175.50" r="3.60" fill="#ff0000"/><circle cx="441.00" cy="175.30" r="3.60" fill="#ff0000"/><circle cx="453.80" cy="175.10" r="3.60" fill="#ff0000"/><circle cx="466.60" cy="174.60" r="3.60" fill="#ff0000"/><circle cx="479.40" cy="174.60" r="3.60" fill="#ff0000"/><circle cx="492.20" cy="173.10" r="3.60" fill="#ff0000"/><circle cx="505.00" cy="172.40" r="3.60" fill="#ff0000"/><circle cx="517.80" cy="171.60" r="3.60" fill="#ff0000"/><circle cx="530.60" cy="170.60" r="3.60" fill="#ff0000"/><circle cx="543.40" cy="169.70" r="3.60" fill="#ff0000"/><circle cx="556.20" cy="169.30" r="3.60" fill="#ff0000"/><circle cx="569.00" cy="169.40" r="3.60" fill="#ff0000"/><circle cx="581.80" cy="171.60" r="3.60" fill="#ff0000"/><circle cx="594.60" cy="191.20" r="3.60" fill="#ff0000"/><line x1="407.20" y1="189.17" x2="410.80" y2="189.23" stroke="#d09696" stroke-width="1.0" /><line x1="419.85" y1="190.48" x2="423.75" y2="191.52" stroke="#d09696" stroke-width="1.0" /><line x1="432.69" y1="191.72" x2="436.51" y2="190.88" stroke="#d09696" stroke-width="1.0" /><line x1="445.60" y1="189.90" x2="449.20" y2="189.90" stroke="#d09696" stroke-width="1.0" /><line x1="458.40" y1="190.01" x2="462.00" y2="190.09" stroke="#d09696" stroke-width="1.0" /><line x1="471.20" y1="190.20" x2="474.80" y2="190.20" stroke="#d09696" stroke-width="1.0" /><line x1="483.96" y1="189.63" x2="487.64" y2="189.17" stroke="#d09696" stroke-width="1.0" /><line x1="496.78" y1="188.14" x2="500.42" y2="187.76" stroke="#d09696" stroke-width="1.0" /><line x1="509.57" y1="186.76" x2="513.23" y2="186.34" stroke="#d09696" stroke-width="1.0" /><line x1="522.33" y1="184.99" x2="526.07" y2="184.31" stroke="#d09696" stroke-width="1.0" /><line x1="535.13" y1="182.72" x2="538.87" y2="182.08" stroke="#d09696" stroke-width="1.0" /><line x1="547.87" y1="180.22" x2="551.73" y2="179.28" stroke="#d09696" stroke-width="1.0" /><line x1="560.69" y1="177.18" x2="564.51" y2="176.32" stroke="#d09696" stroke-width="1.0" /><line x1="573.53" y1="174.52" x2="577.27" y2="173.88" stroke="#d09696" stroke-width="1.0" /><line x1="586.34" y1="172.39" x2="590.06" y2="171.81" stroke="#d09696" stroke-width="1.0" /><circle cx="402.60" cy="189.10" r="2.90" fill="#fff" stroke="#d88a8a" stroke-width="1"/><circle cx="415.40" cy="189.30" r="2.90" fill="#fff" stroke="#d88a8a" stroke-width="1"/><circle cx="428.20" cy="192.70" r="2.90" fill="#fff" stroke="#d88a8a" stroke-width="1"/><circle cx="441.00" cy="189.90" r="2.90" fill="#fff" stroke="#d88a8a" stroke-width="1"/><circle cx="453.80" cy="189.90" r="2.90" fill="#fff" stroke="#d88a8a" stroke-width="1"/><circle cx="466.60" cy="190.20" r="2.90" fill="#fff" stroke="#d88a8a" stroke-width="1"/><circle cx="479.40" cy="190.20" r="2.90" fill="#fff" stroke="#d88a8a" stroke-width="1"/><circle cx="492.20" cy="188.60" r="2.90" fill="#fff" stroke="#d88a8a" stroke-width="1"/><circle cx="505.00" cy="187.30" r="2.90" fill="#fff" stroke="#d88a8a" stroke-width="1"/><circle cx="517.80" cy="185.80" r="2.90" fill="#fff" stroke="#d88a8a" stroke-width="1"/><circle cx="530.60" cy="183.50" r="2.90" fill="#fff" stroke="#d88a8a" stroke-width="1"/><circle cx="543.40" cy="181.30" r="2.90" fill="#fff" stroke="#d88a8a" stroke-width="1"/><circle cx="556.20" cy="178.20" r="2.90" fill="#fff" stroke="#d88a8a" stroke-width="1"/><circle cx="569.00" cy="175.30" r="2.90" fill="#fff" stroke="#d88a8a" stroke-width="1"/><circle cx="581.80" cy="173.10" r="2.90" fill="#fff" stroke="#d88a8a" stroke-width="1"/><circle cx="594.60" cy="171.10" r="2.90" fill="#fff" stroke="#d88a8a" stroke-width="1"/></g>
<text class="s" transform="translate(22.30,226.90) scale(0.93,1)" font-size="12.6">10<tspan font-size="7.0" dx="0.7" dy="-7.4">0</tspan></text>
<text class="s" transform="translate(22.30,160.60) scale(0.93,1)" font-size="12.6">10<tspan font-size="7.0" dx="0.7" dy="-7.4">1</tspan></text>
<text class="s" transform="translate(22.30,94.30) scale(0.93,1)" font-size="12.6">10<tspan font-size="7.0" dx="0.7" dy="-7.4">2</tspan></text>
<text class="s" transform="translate(22.30,28.00) scale(0.93,1)" font-size="12.6">10<tspan font-size="7.0" dx="0.7" dy="-7.4">3</tspan></text>
<text class="s" transform="translate(56.40,239.80) scale(0.93,1)" font-size="12.6">10<tspan font-size="7.0" dx="0.7" dy="-8.4">−1</tspan></text>
<text class="s" transform="translate(137.80,239.80) scale(0.93,1)" font-size="12.6">10<tspan font-size="7.0" dx="0.7" dy="-7.1">0</tspan></text>
<text class="s" transform="translate(217.00,239.80) scale(0.93,1)" font-size="12.6">10<tspan font-size="7.0" dx="0.7" dy="-7.1">1</tspan></text>
<text class="s" transform="translate(296.20,239.80) scale(0.93,1)" font-size="12.6">10<tspan font-size="7.0" dx="0.7" dy="-7.1">2</tspan></text>
<text class="s" transform="translate(377.60,224.00) scale(0.93,1)" font-size="12.6">10<tspan font-size="7.0" dx="0.7" dy="-8.3">−1</tspan></text>
<text class="s" transform="translate(382.10,164.90) scale(0.93,1)" font-size="12.6">10<tspan font-size="7.0" dx="0.7" dy="-7.0">1</tspan></text>
<text class="s" transform="translate(382.10,105.80) scale(0.93,1)" font-size="12.6">10<tspan font-size="7.0" dx="0.7" dy="-7.0">3</tspan></text>
<text class="s" transform="translate(382.10,46.70) scale(0.93,1)" font-size="12.6">10<tspan font-size="7.0" dx="0.7" dy="-7.0">5</tspan></text>
<text class="s" transform="translate(392.30,236.90) scale(0.93,1)" font-size="12.6">10<tspan font-size="7.0" dx="0.7" dy="-9.3">−1</tspan></text>
<text class="s" transform="translate(458.70,236.90) scale(0.93,1)" font-size="12.6">10<tspan font-size="7.0" dx="0.7" dy="-8.0">0</tspan></text>
<text class="s" transform="translate(522.70,236.90) scale(0.93,1)" font-size="12.6">10<tspan font-size="7.0" dx="0.7" dy="-8.0">1</tspan></text>
<text class="s" transform="translate(586.70,236.90) scale(0.93,1)" font-size="12.6">10<tspan font-size="7.0" dx="0.7" dy="-8.0">2</tspan></text>
<text class="s" transform="translate(650.70,236.90) scale(0.93,1)" font-size="12.6">10<tspan font-size="7.0" dx="0.7" dy="-8.0">3</tspan></text>
<text class="b" font-size="13.9" transform="translate(16.4,93.1) rotate(-90)">G', G" (Pa)</text>
<text class="b" font-size="13.75" transform="translate(376.2,112.4) rotate(-90)">G', G" x A (Pa)</text>
<text class="s" x="231.30" y="254.40" font-size="15.5" style="stroke-width:0.55px">ω</text><text class="b" x="244.70" y="255.00" font-size="15">(</text><text class="b" x="249.70" y="254.40" font-size="13.2">rad·s</text><text class="b" x="282.60" y="247.90" font-size="7" style="stroke-width:0;font-weight:normal">−<tspan dx="0.6">1</tspan></text><text class="b" x="291.10" y="255.00" font-size="15">)</text>
<text class="s" x="589.60" y="256.40" font-size="15.5" style="stroke-width:0.55px">ω</text><text class="b" x="604.80" y="257.00" font-size="15">(</text><text class="b" x="609.80" y="256.40" font-size="13.2">rad·s</text><text class="b" x="641.80" y="249.90" font-size="7" style="stroke-width:0;font-weight:normal">−<tspan dx="0.6">1</tspan></text><text class="b" x="649.40" y="257.00" font-size="15">)</text>
<text class="b" x="282.6" y="207.8" font-size="12.4">(a)</text>
<text class="b" x="416.6" y="16.6" font-size="12.2">(b)</text>
<text class="b" x="67.6" y="19.6" font-size="10.3">G<tspan dx="0.7">'</tspan></text>
<text class="b" x="93.0" y="19.6" font-size="10.3">G<tspan dx="0.7">'</tspan><tspan dx="-0.1">'</tspan></text>
<line x1="57.90" y1="30.00" x2="82.90" y2="30.00" stroke="#d09696" stroke-width="1.2" />
<line x1="85.80" y1="30.00" x2="110.00" y2="30.00" stroke="#d09696" stroke-width="1.2" />
<rect x="67.10" y="26.60" width="6.80" height="6.80" fill="#ff0000"/>
<rect x="94.80" y="27.00" width="6.00" height="6.00" fill="#fff" stroke="#d88a8a" stroke-width="1"/>
<line x1="57.90" y1="43.90" x2="82.90" y2="43.90" stroke="#7272d0" stroke-width="1.2" />
<line x1="85.80" y1="43.90" x2="110.00" y2="43.90" stroke="#7272d0" stroke-width="1.2" />
<circle cx="70.50" cy="43.90" r="3.60" fill="#0000ff"/>
<circle cx="97.80" cy="43.90" r="3.45" fill="#fff" stroke="#8c8cd4" stroke-width="1"/>
<text class="b" x="113.0" y="33.6" font-size="10.5">2d</text>
<text class="b" x="112.8" y="47.4" font-size="10.5">2q</text>
<text class="b" x="616.6" y="108.1" font-size="10.3">G<tspan dx="0.7">'</tspan></text>
<text class="b" x="642.4" y="108.1" font-size="10.3">G<tspan dx="0.7">'</tspan><tspan dx="-0.1">'</tspan></text>
<line x1="607.20" y1="120.20" x2="631.80" y2="120.20" stroke="#5fa35f" stroke-width="1.2" />
<line x1="634.60" y1="120.20" x2="659.40" y2="120.20" stroke="#5fa35f" stroke-width="1.2" />
<rect x="616.10" y="117.10" width="6.20" height="6.20" fill="#008000"/>
<rect x="644.90" y="117.70" width="5.00" height="5.00" fill="#fff" stroke="#7fb87f" stroke-width="1"/>
<line x1="607.20" y1="136.00" x2="631.80" y2="136.00" stroke="#7e7e7e" stroke-width="1.2" />
<line x1="634.60" y1="136.00" x2="659.40" y2="136.00" stroke="#7e7e7e" stroke-width="1.2" />
<polygon points="619.60,131.27 623.40,138.37 615.80,138.37" fill="#000"/>
<polygon points="647.00,131.67 650.80,138.17 643.20,138.17" fill="#fff" stroke="#8a8a8a" stroke-width="1" stroke-linejoin="miter"/>
<line x1="607.20" y1="149.40" x2="631.80" y2="149.40" stroke="#7272d0" stroke-width="1.2" />
<line x1="634.60" y1="149.40" x2="659.40" y2="149.40" stroke="#7272d0" stroke-width="1.2" />
<polygon points="619.80,145.40 623.80,149.40 619.80,153.40 615.80,149.40" fill="#0000ff"/>
<polygon points="647.20,145.70 650.90,149.40 647.20,153.10 643.50,149.40" fill="#fff" stroke="#8c8cd4" stroke-width="1"/>
<line x1="607.20" y1="163.20" x2="631.80" y2="163.20" stroke="#d09696" stroke-width="1.2" />
<line x1="634.60" y1="163.20" x2="659.40" y2="163.20" stroke="#d09696" stroke-width="1.2" />
<circle cx="619.30" cy="163.20" r="3.50" fill="#ff0000"/>
<circle cx="647.00" cy="163.20" r="3.20" fill="#fff" stroke="#d88a8a" stroke-width="1"/>
<text class="b" x="662.4" y="124.0" font-size="10.5">2d</text>
<text class="b" x="686.6" y="124.0" font-size="10.5">(A = 10<tspan font-size="6.2" dx="0.8" dy="-5.0" style="stroke-width:0.15px">3</tspan><tspan dx="0.3" dy="5.0">)</tspan></text>
<text class="b" x="662.4" y="139.5" font-size="10.5">2.5d</text>
<text class="b" x="686.6" y="139.5" font-size="10.5">(A = 10<tspan font-size="6.2" dx="0.8" dy="-5.0" style="stroke-width:0.15px">2</tspan><tspan dx="0.3" dy="5.0">)</tspan></text>
<text class="b" x="662.4" y="153.6" font-size="10.5">3d</text>
<text class="b" x="686.6" y="153.6" font-size="10.5">(A = 5)</text>
<text class="b" x="662.4" y="167.3" font-size="10.5">4d</text>
</svg></body></html>
